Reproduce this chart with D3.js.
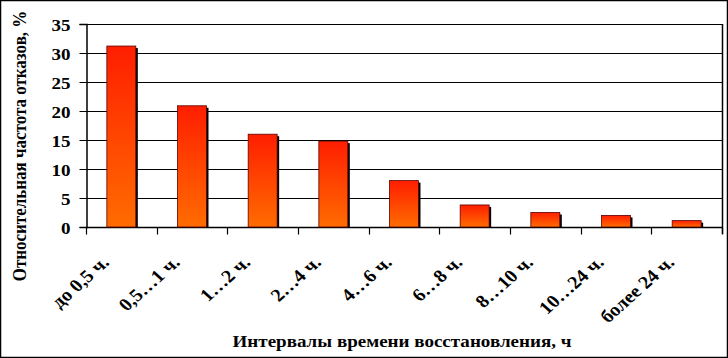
<!DOCTYPE html>
<html><head><meta charset="utf-8">
<script src="https://cdn.jsdelivr.net/npm/d3@7"></script>
<style>body{margin:0;background:#fff}svg{display:block}text{font-family:"Liberation Serif","Times New Roman",serif;font-weight:bold;fill:#000}</style>
</head><body><svg id="c" width="728" height="358"></svg>
<script>
const categories = ["до 0,5 ч.","0,5…1 ч.","1…2 ч.","2…4 ч.","4…6 ч.","6…8 ч.","8…10 ч.","10…24 ч.","более 24 ч."];
const values = [31.2, 20.9, 16.0, 14.8, 8.0, 3.8, 2.5, 2.0, 1.1];
const yTicks = [0,5,10,15,20,25,30,35];
const xTitle = "Интервалы времени восстановления, ч";
const yTitle = "Относительная частота отказов, %";

const svg = d3.select("#c");
const W=728,H=358, SX=1.12;
const m={l:86,r:722,t:24,b:227};
svg.append("rect").attr("x",0.5).attr("y",0.5).attr("width",W-1).attr("height",H-1).attr("fill","#fff").attr("stroke","#000").attr("stroke-width",1.5);

const x=d3.scaleBand().domain(categories).range([m.l,m.r]).paddingInner(0.59).paddingOuter(0.295);
const xb=d3.scaleBand().domain(categories).range([m.l,m.r]);
const y=d3.scaleLinear().domain([0,35]).range([m.b,m.t]);

const defs=svg.append("defs");
const g=defs.append("linearGradient").attr("id","bg").attr("x1",0).attr("y1",0).attr("x2",0).attr("y2",1);
g.append("stop").attr("offset","0%").attr("stop-color","#ff1e00");
g.append("stop").attr("offset","100%").attr("stop-color","#ff6c00");

// gridlines
svg.append("g").selectAll("line").data(yTicks.filter(d=>d>0)).join("line")
  .attr("x1",m.l).attr("x2",m.r).attr("y1",d=>Math.round(y(d))+0.5).attr("y2",d=>Math.round(y(d))+0.5)
  .attr("stroke","#000").attr("stroke-width",1);
svg.append("line").attr("x1",m.r+0.5).attr("x2",m.r+0.5).attr("y1",y(35)).attr("y2",m.b+7).attr("stroke","#000").attr("stroke-width",1.5);

// y axis
const ya=svg.append("g").attr("transform",`translate(${m.l+0.5},0)`).call(d3.axisLeft(y).tickValues(yTicks).tickSize(7).tickPadding(0));
ya.select(".domain").attr("stroke","#000").attr("stroke-width",1.5);
ya.selectAll(".tick text").attr("x",null).attr("dy",null)
  .attr("transform",`translate(-16,6) scale(${SX},1)`)
  .style("font-size","17px").style("font-family","Liberation Serif").style("font-weight","bold");

// x axis
const xa=svg.append("g").attr("transform",`translate(0,${m.b+0.5})`);
xa.append("line").attr("x1",m.l).attr("x2",m.r).attr("stroke","#000").attr("stroke-width",1.5);
const tickPos=categories.map(c=>xb(c)).concat([m.r]);
xa.selectAll("line.t").data(tickPos).join("line").attr("class","t")
  .attr("x1",d=>Math.round(d)+0.5).attr("x2",d=>Math.round(d)+0.5).attr("y1",0).attr("y2",7).attr("stroke","#000").attr("stroke-width",1.2);
xa.selectAll("text").data(categories).join("text")
  .attr("text-anchor","end")
  .attr("transform",d=>`translate(${xb(d)+xb.bandwidth()/2-11},${36}) scale(${SX},1) rotate(-45)`)
  .style("font-size","18px").text(d=>d);

// bars
const bars=svg.append("g");
bars.selectAll("rect.s").data(values).join("rect").attr("class","s")
  .attr("x",(d,i)=>x(categories[i])+2).attr("y",d=>y(d)+2)
  .attr("width",x.bandwidth()).attr("height",d=>y(0)-y(d)-2).attr("fill","#000");
bars.selectAll("rect.b").data(values).join("rect").attr("class","b")
  .attr("x",(d,i)=>x(categories[i])).attr("y",d=>y(d))
  .attr("width",x.bandwidth()).attr("height",d=>y(0)-y(d))
  .attr("fill","url(#bg)").attr("stroke","#5a0000").attr("stroke-width",0.8);

// titles
svg.append("text").attr("transform",`translate(${(m.l+m.r)/2-2},347) scale(${SX},1)`).attr("text-anchor","middle").style("font-size","17px").text(xTitle);
svg.append("text").attr("transform",`translate(26,146) scale(${SX},1) rotate(-90)`).attr("text-anchor","middle").style("font-size","17px").text(yTitle);
</script></body></html>
